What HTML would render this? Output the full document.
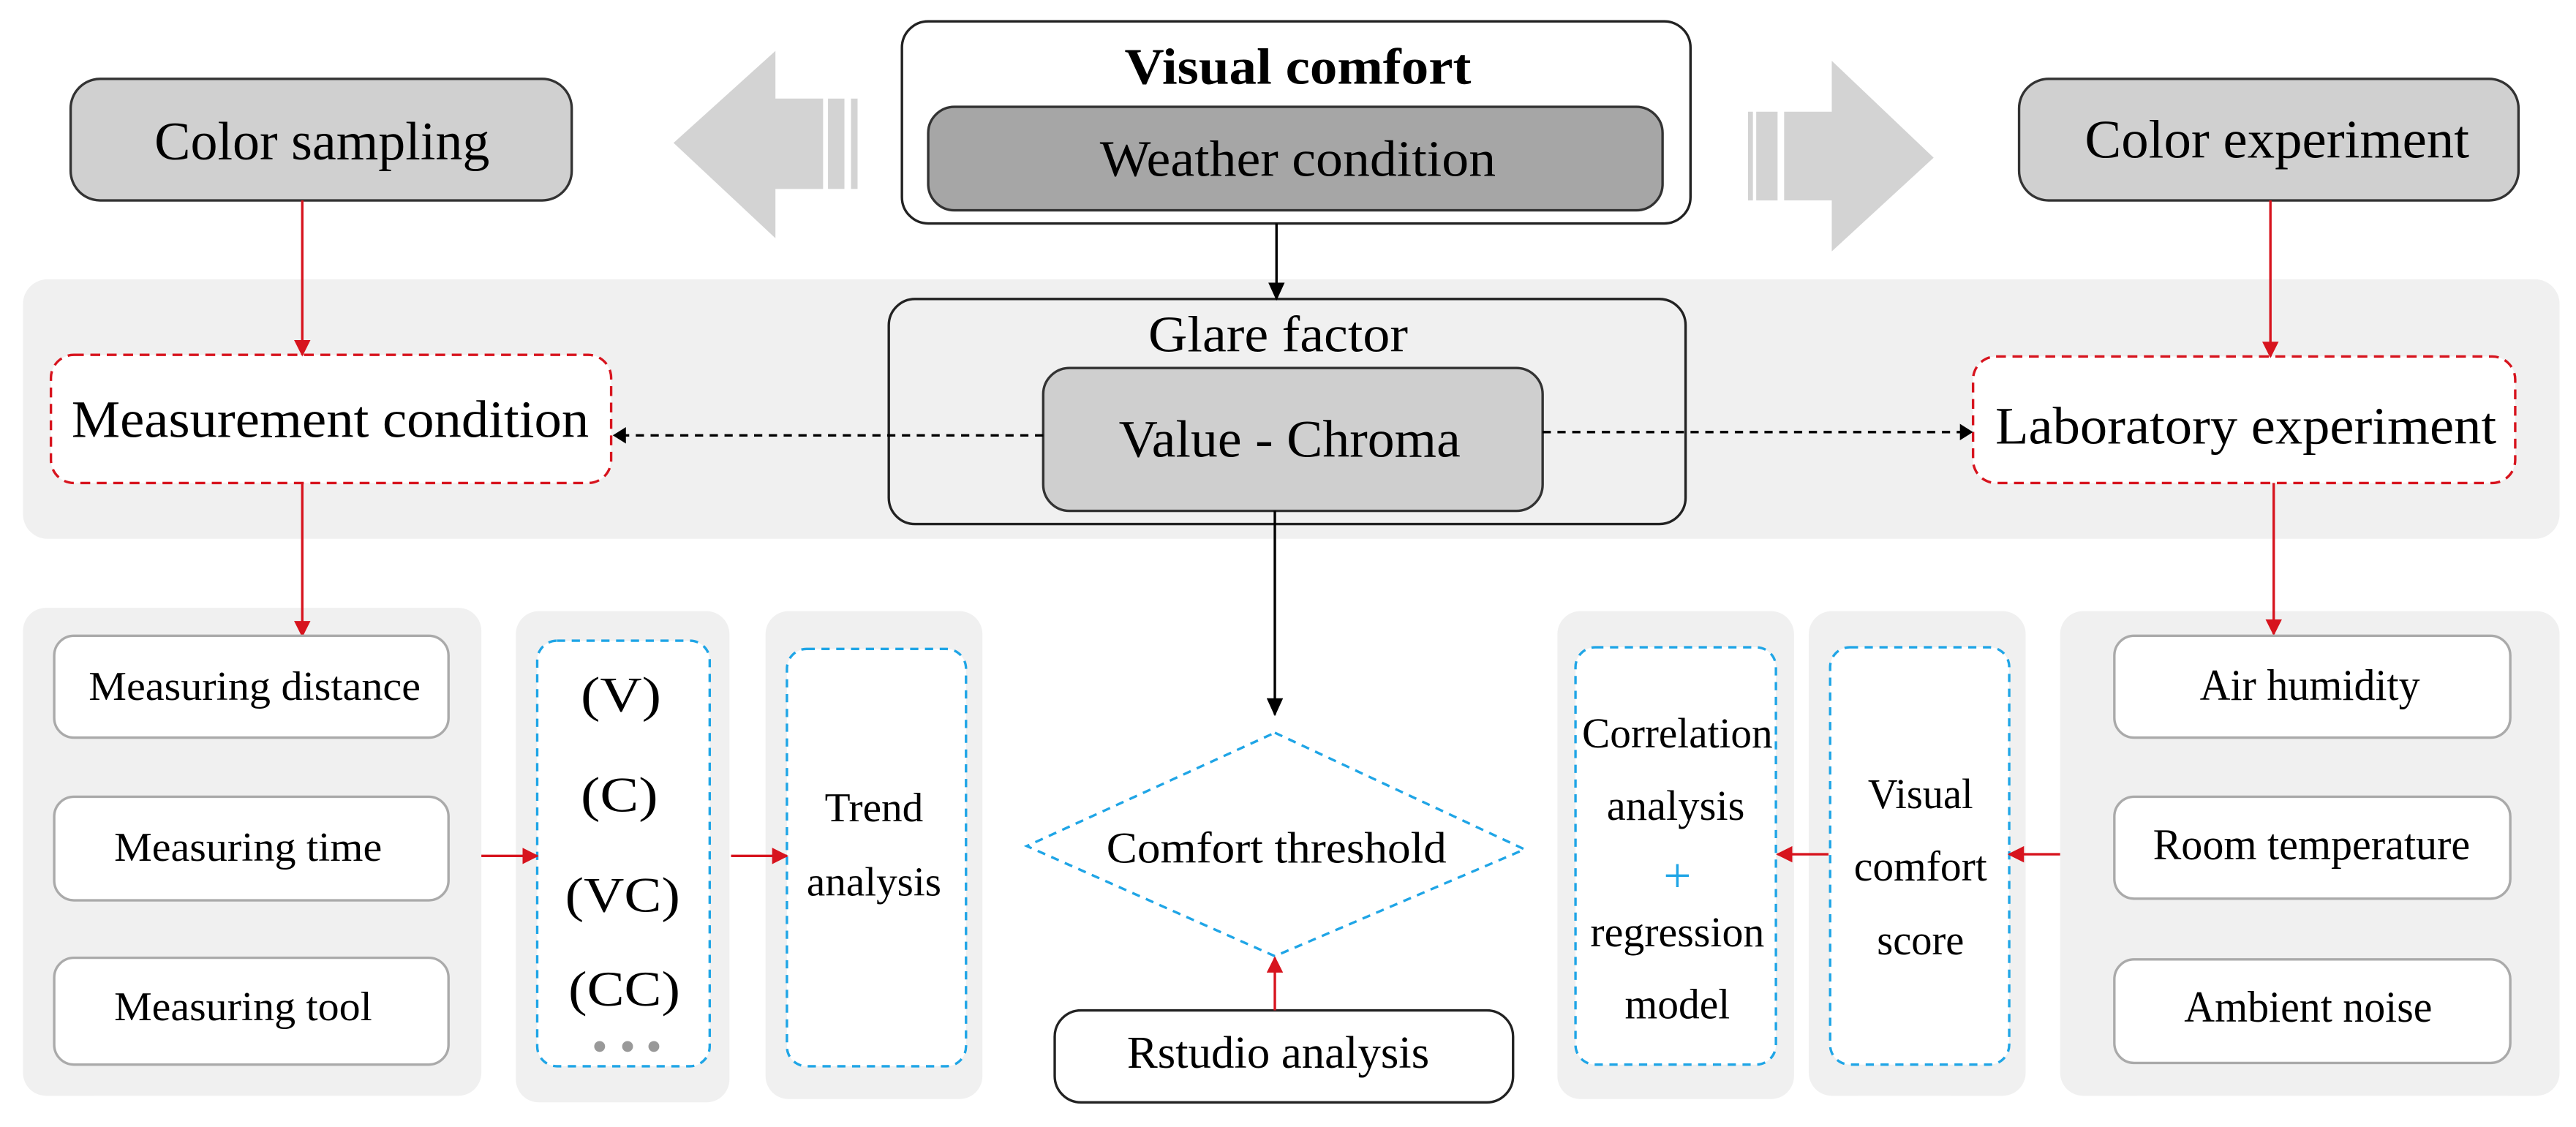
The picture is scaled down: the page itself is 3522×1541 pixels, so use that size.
<!DOCTYPE html>
<html><head><meta charset="utf-8"><style>
html,body{margin:0;padding:0;background:#fff;}
svg{display:block;}
text{font-family:"Liberation Serif",serif;fill:#000;}
</style></head><body>
<svg width="3522" height="1541" viewBox="0 0 1568 686" preserveAspectRatio="none" xmlns="http://www.w3.org/2000/svg">
<defs>
<marker id="ar" markerWidth="10" markerHeight="10" refX="9" refY="5" orient="auto" markerUnits="userSpaceOnUse"><path d="M0,0 L10,5 L0,10 z" fill="#d7141e"/></marker>
<marker id="ab" markerWidth="11" markerHeight="10" refX="10" refY="5" orient="auto" markerUnits="userSpaceOnUse"><path d="M0,0 L11,5 L0,10 z" fill="#000"/></marker>
<marker id="abs" markerWidth="8" markerHeight="10" refX="7" refY="5" orient="auto" markerUnits="userSpaceOnUse"><path d="M0,0 L8,5 L0,10 z" fill="#000"/></marker>
</defs>
<!-- gray band -->
<rect x="14" y="170" width="1544" height="158" rx="15" fill="#f0f0f0"/>
<!-- bottom panels -->
<rect x="14" y="370" width="279" height="297" rx="14" fill="#f0f0f0"/>
<rect x="314" y="372" width="130" height="299" rx="14" fill="#f0f0f0"/>
<rect x="466" y="372" width="132" height="297" rx="14" fill="#f0f0f0"/>
<rect x="948" y="372" width="144" height="297" rx="14" fill="#f0f0f0"/>
<rect x="1101" y="372" width="132" height="295" rx="14" fill="#f0f0f0"/>
<rect x="1254" y="372" width="304" height="295" rx="14" fill="#f0f0f0"/>

<!-- big arrows -->
<polygon points="410,87 472,31 472,60 501,60 501,115 472,115 472,145" fill="#d3d3d3"/>
<rect x="504" y="60" width="10" height="55" fill="#d3d3d3"/>
<rect x="518" y="60" width="4" height="55" fill="#d3d3d3"/>
<polygon points="1177,96 1115,37 1115,68 1086,68 1086,122 1115,122 1115,153" fill="#d3d3d3"/>
<rect x="1069" y="68" width="13" height="54" fill="#d3d3d3"/>
<rect x="1064" y="68" width="3" height="54" fill="#d3d3d3"/>

<!-- top boxes -->
<rect x="43" y="48" width="305" height="74" rx="18" fill="#d0d0d0" stroke="#333" stroke-width="1.5"/>
<text x="196" y="97" font-size="33" text-anchor="middle" textLength="204" lengthAdjust="spacingAndGlyphs">Color sampling</text>
<rect x="1229" y="48" width="304" height="74" rx="18" fill="#d0d0d0" stroke="#333" stroke-width="1.5"/>
<text x="1386" y="96" font-size="33" text-anchor="middle" textLength="234" lengthAdjust="spacingAndGlyphs">Color experiment</text>

<rect x="549" y="13" width="480" height="123" rx="16" fill="#fff" stroke="#222" stroke-width="1.5"/>
<text x="790" y="51" font-size="31" font-weight="bold" text-anchor="middle" textLength="211" lengthAdjust="spacingAndGlyphs">Visual comfort</text>
<rect x="565" y="65" width="447" height="63" rx="16" fill="#a6a6a6" stroke="#333" stroke-width="1.5"/>
<text x="790" y="107" font-size="31" text-anchor="middle" textLength="241" lengthAdjust="spacingAndGlyphs">Weather condition</text>

<!-- glare -->
<rect x="541" y="182" width="485" height="137" rx="16" fill="none" stroke="#222" stroke-width="1.5"/>
<text x="778" y="214" font-size="31" text-anchor="middle" textLength="158" lengthAdjust="spacingAndGlyphs">Glare factor</text>
<rect x="635" y="224" width="304" height="87" rx="16" fill="#cfcfcf" stroke="#333" stroke-width="1.5"/>
<text x="785" y="278" font-size="32" text-anchor="middle" textLength="208" lengthAdjust="spacingAndGlyphs">Value - Chroma</text>

<!-- red dashed boxes -->
<rect x="31" y="216" width="341" height="78" rx="14" fill="#fff" stroke="#d7141e" stroke-width="1.5" stroke-dasharray="6,4"/>
<text x="201" y="266" font-size="32" text-anchor="middle" textLength="315" lengthAdjust="spacingAndGlyphs">Measurement condition</text>
<rect x="1201" y="217" width="330" height="77" rx="14" fill="#fff" stroke="#d7141e" stroke-width="1.5" stroke-dasharray="6,4"/>
<text x="1367" y="270" font-size="32" text-anchor="middle" textLength="305" lengthAdjust="spacingAndGlyphs">Laboratory experiment</text>

<!-- dashed black connectors -->
<line x1="635" y1="265" x2="374" y2="265" stroke="#000" stroke-width="1.5" stroke-dasharray="5,4" marker-end="url(#abs)"/>
<line x1="939" y1="263" x2="1200" y2="263" stroke="#000" stroke-width="1.5" stroke-dasharray="5,4" marker-end="url(#abs)"/>

<!-- arrows -->
<line x1="184" y1="122" x2="184" y2="216" stroke="#d7141e" stroke-width="1.5" marker-end="url(#ar)"/>
<line x1="1382" y1="122" x2="1382" y2="217" stroke="#d7141e" stroke-width="1.5" marker-end="url(#ar)"/>
<line x1="184" y1="294" x2="184" y2="387" stroke="#d7141e" stroke-width="1.5" marker-end="url(#ar)"/>
<line x1="1384" y1="294" x2="1384" y2="386" stroke="#d7141e" stroke-width="1.5" marker-end="url(#ar)"/>
<line x1="777" y1="136" x2="777" y2="182" stroke="#000" stroke-width="1.5" marker-end="url(#ab)"/>
<line x1="776" y1="311" x2="776" y2="435" stroke="#000" stroke-width="1.5" marker-end="url(#ab)"/>

<!-- left bottom boxes -->
<rect x="33" y="387" width="240" height="62" rx="12" fill="#fff" stroke="#aaa" stroke-width="1.5"/>
<text x="155" y="426" font-size="25" text-anchor="middle" textLength="202" lengthAdjust="spacingAndGlyphs">Measuring distance</text>
<rect x="33" y="485" width="240" height="63" rx="12" fill="#fff" stroke="#aaa" stroke-width="1.5"/>
<text x="151" y="524" font-size="25" text-anchor="middle" textLength="163" lengthAdjust="spacingAndGlyphs">Measuring time</text>
<rect x="33" y="583" width="240" height="65" rx="12" fill="#fff" stroke="#aaa" stroke-width="1.5"/>
<text x="148" y="621" font-size="25" text-anchor="middle" textLength="157" lengthAdjust="spacingAndGlyphs">Measuring tool</text>

<rect x="327" y="390" width="105" height="259" rx="12" fill="#fff" stroke="#1fa5e6" stroke-width="1.5" stroke-dasharray="5,4"/>
<text x="378" y="433" font-size="30" text-anchor="middle" textLength="49" lengthAdjust="spacingAndGlyphs">(V)</text>
<text x="377" y="494" font-size="30" text-anchor="middle" textLength="47" lengthAdjust="spacingAndGlyphs">(C)</text>
<text x="379" y="555" font-size="30" text-anchor="middle" textLength="70" lengthAdjust="spacingAndGlyphs">(VC)</text>
<text x="380" y="612" font-size="30" text-anchor="middle" textLength="68" lengthAdjust="spacingAndGlyphs">(CC)</text>
<circle cx="365" cy="637" r="3.3" fill="#999"/><circle cx="382" cy="637" r="3.3" fill="#999"/><circle cx="398" cy="637" r="3.3" fill="#999"/>

<rect x="479" y="395" width="109" height="254" rx="12" fill="#fff" stroke="#1fa5e6" stroke-width="1.5" stroke-dasharray="5,4"/>
<text x="532" y="500" font-size="25" text-anchor="middle" textLength="60" lengthAdjust="spacingAndGlyphs">Trend</text>
<text x="532" y="545" font-size="25" text-anchor="middle" textLength="82" lengthAdjust="spacingAndGlyphs">analysis</text>

<line x1="293" y1="521" x2="327" y2="521" stroke="#d7141e" stroke-width="1.5" marker-end="url(#ar)"/>
<line x1="445" y1="521" x2="479" y2="521" stroke="#d7141e" stroke-width="1.5" marker-end="url(#ar)"/>

<!-- diamond -->
<polygon points="776,446 928,517 776,582 625,515" fill="#fff" stroke="#1fa5e6" stroke-width="1.5" stroke-dasharray="5,4"/>
<text x="777" y="525" font-size="27" text-anchor="middle" textLength="207" lengthAdjust="spacingAndGlyphs">Comfort threshold</text>
<rect x="642" y="615" width="279" height="56" rx="16" fill="#fff" stroke="#222" stroke-width="1.5"/>
<text x="778" y="650" font-size="28" text-anchor="middle" textLength="184" lengthAdjust="spacingAndGlyphs">Rstudio analysis</text>
<line x1="776" y1="615" x2="776" y2="583" stroke="#d7141e" stroke-width="1.5" marker-end="url(#ar)"/>

<!-- right analysis -->
<rect x="959" y="394" width="122" height="254" rx="12" fill="#fff" stroke="#1fa5e6" stroke-width="1.5" stroke-dasharray="5,4"/>
<text x="1021" y="455" font-size="26" text-anchor="middle" textLength="116" lengthAdjust="spacingAndGlyphs">Correlation</text>
<text x="1020" y="499" font-size="26" text-anchor="middle" textLength="84" lengthAdjust="spacingAndGlyphs">analysis</text>
<text x="1021" y="543" font-size="30" text-anchor="middle" style="fill:#1fa5e6">+</text>
<text x="1021" y="576" font-size="26" text-anchor="middle" textLength="106" lengthAdjust="spacingAndGlyphs">regression</text>
<text x="1021" y="620" font-size="26" text-anchor="middle" textLength="64" lengthAdjust="spacingAndGlyphs">model</text>

<rect x="1114" y="394" width="109" height="254" rx="12" fill="#fff" stroke="#1fa5e6" stroke-width="1.5" stroke-dasharray="5,4"/>
<text x="1169" y="492" font-size="26" text-anchor="middle" textLength="64" lengthAdjust="spacingAndGlyphs">Visual</text>
<text x="1169" y="536" font-size="26" text-anchor="middle" textLength="81" lengthAdjust="spacingAndGlyphs">comfort</text>
<text x="1169" y="581" font-size="26" text-anchor="middle" textLength="53" lengthAdjust="spacingAndGlyphs">score</text>

<line x1="1254" y1="520" x2="1223" y2="520" stroke="#d7141e" stroke-width="1.5" marker-end="url(#ar)"/>
<line x1="1113" y1="520" x2="1082" y2="520" stroke="#d7141e" stroke-width="1.5" marker-end="url(#ar)"/>

<rect x="1287" y="387" width="241" height="62" rx="12" fill="#fff" stroke="#aaa" stroke-width="1.5"/>
<text x="1406" y="426" font-size="27" text-anchor="middle" textLength="134" lengthAdjust="spacingAndGlyphs">Air humidity</text>
<rect x="1287" y="485" width="241" height="62" rx="12" fill="#fff" stroke="#aaa" stroke-width="1.5"/>
<text x="1407" y="523" font-size="27" text-anchor="middle" textLength="193" lengthAdjust="spacingAndGlyphs">Room temperature</text>
<rect x="1287" y="584" width="241" height="63" rx="12" fill="#fff" stroke="#aaa" stroke-width="1.5"/>
<text x="1405" y="622" font-size="27" text-anchor="middle" textLength="151" lengthAdjust="spacingAndGlyphs">Ambient noise</text>
</svg>
</body></html>
